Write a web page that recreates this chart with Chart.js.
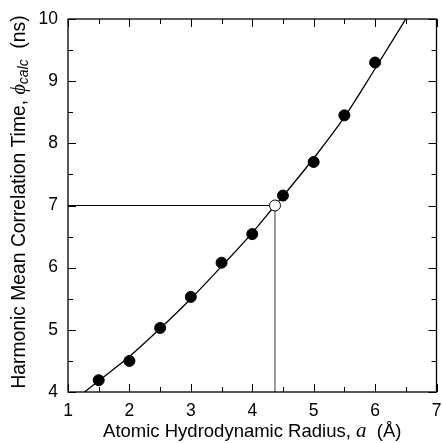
<!DOCTYPE html>
<html>
<head>
<meta charset="utf-8">
<script src="https://cdn.jsdelivr.net/npm/chart.js@4.4.1/dist/chart.umd.min.js"></script>
<style>
  html, body { margin: 0; padding: 0; background: #fff; overflow: hidden; }
  #wrap { width: 443px; height: 443px; }
</style>
</head>
<body>
<div id="wrap"><canvas id="chart"></canvas></div>
<script>
// measured points
const radiusA = [1.5, 2, 2.5, 3, 3.5, 4, 4.5, 5, 5.5, 6];
const phiCalc = [4.19, 4.50, 5.03, 5.53, 6.08, 6.54, 7.16, 7.70, 8.45, 9.30];

// fitted curve
const curveX = [1.27, 1.5, 2, 2.5, 3, 3.5, 4, 4.37, 4.5, 5, 5.5, 6, 6.5];
const curveY = [4.0, 4.18, 4.57, 5.02, 5.5, 6.02, 6.56, 7.0, 7.15, 7.76, 8.42, 9.2, 10.0];

// interpolated value (open circle) and guide lines
const markX = [4.37];
const markY = [7.0];
const xTicks = [1, 2, 3, 4, 5, 6, 7];
const yTicks = [4, 5, 6, 7, 8, 9, 10];

const sans = '"Liberation Sans", Arial, sans-serif';
const serif = '"Liberation Serif", "Times New Roman", serif';

const pts = (xs, ys) => xs.map((x, i) => ({ x: x, y: ys[i] }));

// inward ticks on all four sides + frame
const framePlugin = {
  id: 'frame',
  afterDatasetsDraw(chart) {
    const ctx = chart.ctx, a = chart.chartArea;
    const xs = chart.scales.x, ys = chart.scales.y;
    ctx.save();
    ctx.strokeStyle = '#000';
    ctx.lineWidth = 1;
    ctx.beginPath();
    for (let i = 0; i < xTicks.length; i++) {
      const px = Math.round(xs.getPixelForValue(xTicks[i])) + 0.5;
      ctx.moveTo(px, a.bottom); ctx.lineTo(px, a.bottom - 8);
      ctx.moveTo(px, a.top); ctx.lineTo(px, a.top + 8);
      if (i < xTicks.length - 1) {
        const mx = Math.round(xs.getPixelForValue(xTicks[i] + 0.5)) + 0.5;
        ctx.moveTo(mx, a.bottom); ctx.lineTo(mx, a.bottom - 5);
        ctx.moveTo(mx, a.top); ctx.lineTo(mx, a.top + 5);
      }
    }
    for (let i = 0; i < yTicks.length; i++) {
      const py = Math.round(ys.getPixelForValue(yTicks[i])) + 0.5;
      ctx.moveTo(a.left, py); ctx.lineTo(a.left + 8, py);
      ctx.moveTo(a.right, py); ctx.lineTo(a.right - 8, py);
      if (i < yTicks.length - 1) {
        const my = Math.round(ys.getPixelForValue(yTicks[i] + 0.5)) + 0.5;
        ctx.moveTo(a.left, my); ctx.lineTo(a.left + 5, my);
        ctx.moveTo(a.right, my); ctx.lineTo(a.right - 5, my);
      }
    }
    ctx.stroke();
    ctx.lineWidth = 1.3;
    ctx.strokeRect(a.left, a.top, a.right - a.left, a.bottom - a.top);
    ctx.restore();
  },
  afterDraw(chart) {
    const ctx = chart.ctx, a = chart.chartArea;
    ctx.save();
    ctx.fillStyle = '#000';
    ctx.textBaseline = 'alphabetic';

    // x title
    const xParts = [
      { t: 'Atomic Hydrodynamic Radius, ', f: '18.5px ' + sans, dy: 0 },
      { t: 'a', f: 'italic 21px ' + serif, dy: 0 },
      { t: '  (\u00C5)', f: '18.5px ' + sans, dy: 0 }
    ];
    drawParts(ctx, xParts, (a.left + a.right) / 2, 437);

    // y title, rotated
    ctx.translate(25, 202);
    ctx.rotate(-Math.PI / 2);
    const yParts = [
      { t: 'Harmonic Mean Correlation Time, ', f: '19.3px ' + sans, dy: 0 },
      { t: '\u03D5', f: 'italic 20px ' + serif, dy: 0 },
      { t: 'calc', f: 'italic 14px ' + sans, dy: 3 },
      { t: '  (ns)', f: '19.3px ' + sans, dy: 0 }
    ];
    drawParts(ctx, yParts, 0, 0);
    ctx.restore();
  }
};

function drawParts(ctx, parts, cx, baseY) {
  let w = 0;
  parts.forEach(p => { ctx.font = p.f; p.w = ctx.measureText(p.t).width; w += p.w; });
  let x = cx - w / 2;
  ctx.textAlign = 'left';
  parts.forEach(p => { ctx.font = p.f; ctx.fillText(p.t, x, baseY + p.dy); x += p.w; });
}

new Chart(document.getElementById('chart').getContext('2d'), {
  type: 'scatter',
  data: {
    datasets: [
      {
        label: 'guide h',
        type: 'line',
        data: pts([1, markX[0]], [markY[0], markY[0]]),
        borderColor: '#000',
        borderWidth: 1,
        pointRadius: 0,
        order: 4
      },
      {
        label: 'guide v',
        type: 'line',
        data: pts([markX[0], markX[0]], [4, markY[0]]),
        borderColor: '#666',
        borderWidth: 1.3,
        pointRadius: 0,
        order: 4
      },
      {
        label: 'fit',
        type: 'line',
        data: pts(curveX, curveY),
        borderColor: '#000',
        borderWidth: 1.3,
        pointRadius: 0,
        cubicInterpolationMode: 'monotone',
        order: 3
      },
      {
        label: 'phi calc',
        data: pts(radiusA, phiCalc),
        backgroundColor: '#000',
        borderColor: '#000',
        pointRadius: 5.5,
        borderWidth: 1,
        order: 2
      },
      {
        label: 'interpolated',
        data: pts(markX, markY),
        backgroundColor: '#fff',
        borderColor: '#000',
        pointRadius: 5.5,
        borderWidth: 1,
        order: 1
      }
    ]
  },
  options: {
    responsive: true,
    maintainAspectRatio: false,
    animation: false,
    events: [],
    layout: { padding: { top: 19, right: 1.5, left: 0, bottom: 0 } },
    plugins: { legend: { display: false }, tooltip: { enabled: false } },
    scales: {
      x: {
        type: 'linear',
        min: 1, max: 7,
        grid: { display: false, drawTicks: false },
        border: { display: false },
        ticks: {
          stepSize: 1,
          padding: 9,
          color: '#000',
          font: { family: sans, size: 17.5 }
        },
        afterFit(s) { s.height = 51; s.paddingLeft = 0; s.paddingRight = 0; }
      },
      y: {
        type: 'linear',
        min: 4, max: 10,
        grid: { display: false, drawTicks: false },
        border: { display: false },
        ticks: {
          stepSize: 1,
          padding: 10,
          color: '#000',
          font: { family: sans, size: 17.5 }
        },
        afterFit(s) { s.width = 68; s.paddingTop = 0; s.paddingBottom = 0; }
      }
    }
  },
  plugins: [framePlugin]
});
</script>
</body>
</html>
